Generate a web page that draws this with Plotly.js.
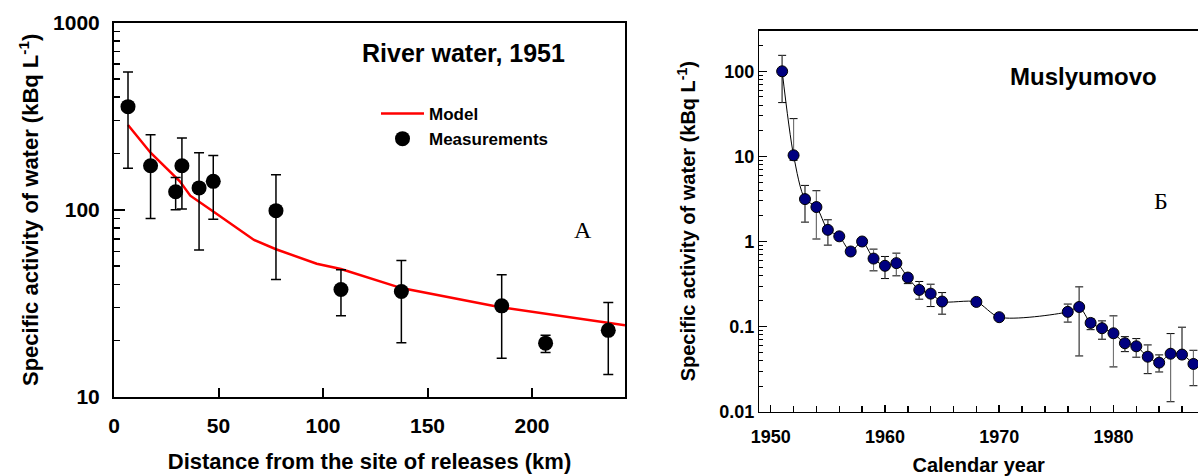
<!DOCTYPE html>
<html>
<head>
<meta charset="utf-8">
<script src="https://cdn.plot.ly/plotly-3.0.1.min.js"></script>
<style>html,body{margin:0;padding:0;background:#fff;}#chart{width:1198px;height:476px;}</style>
</head>
<body>
<div id="chart"></div>
<script>
// ---- Panel A: river water, 1951 ----
const distKm    = [6.7, 17.5, 29.5, 32.5, 40.7, 47.5, 77.5, 108.6, 137.5, 185.5, 206.5, 236.5];
const measured  = [356, 172, 125, 172, 131, 142, 99, 37.5, 36.6, 30.7, 19.4, 22.7];
const measUpper = [546, 252, 149, 242, 202, 195, 154, 47.8, 53.6, 45, 21.4, 32];
const measLower = [167, 90, 100, 101, 61, 89, 42.5, 27.2, 19.5, 16.1, 17.3, 13.2];
const modelKm   = [6.7, 17.5, 31.5, 36.5, 47.5, 67, 77.5, 97, 108.6, 137.5, 185.5, 244.5];
const modelVal  = [284, 202, 142, 119, 98, 69, 61.6, 51.5, 48.3, 38.2, 30.1, 24.2];
const ticksA_x  = [0, 50, 100, 150, 200];
const tickTextA_x = ['0', '50', '100', '150', '200'];
const ticksA_y  = [10, 100, 1000];
const tickTextA_y = ['10', '100', '1000'];

// ---- Panel B: Muslyumovo ----
const years    = [1951,1952,1953,1954,1955,1956,1957,1958,1959,1960,1961,1962,1963,1964,1965,1968,1970,1976,1977,1978,1979,1980,1981,1982,1983,1984,1985,1986,1987];
const activity = [100, 10.3, 3.15, 2.54, 1.37, 1.15, 0.763, 1.0, 0.63, 0.518, 0.557, 0.377, 0.27, 0.244, 0.197, 0.195, 0.129, 0.149, 0.17, 0.1105, 0.0957, 0.0835, 0.0638, 0.0587, 0.0443, 0.0377, 0.048, 0.0469, 0.0364];
const actUpper = [154, 27.8, 4.56, 3.95, 1.8, null, null, null, 0.814, 0.667, 0.73, 0.42, 0.339, 0.315, 0.251, null, null, 0.184, 0.293, 0.124, 0.1167, 0.1337, 0.0762, 0.0723, 0.0609, 0.0465, 0.0828, 0.0984, 0.0527];
const actLower = [42.9, 9, 1.69, 1.07, 0.907, null, null, null, 0.452, 0.367, 0.395, 0.32, 0.21, 0.172, 0.14, null, null, 0.113, 0.0452, 0.092, 0.0711, 0.0336, 0.0508, 0.0437, 0.028, 0.0293, 0.0131, 0.042, 0.0202];
const ticksB_x = [1950, 1960, 1970, 1980];
const tickTextB_x = ['1950', '1960', '1970', '1980'];
const ticksB_y = [0.01, 0.1, 1, 10, 100];
const tickTextB_y = ['0.01', '0.1', '1', '10', '100'];

const plus  = (v, u) => v.map((x, i) => u[i] == null ? NaN : u[i] - x);
const minus = (v, l) => v.map((x, i) => l[i] == null ? NaN : x - l[i]);

const SANS = 'Liberation Sans, Arial, sans-serif';
const SERIF = 'Liberation Serif, Times New Roman, serif';
const yTitle = 'Specific activity of water (kBq L<sup>-1</sup>)';

const traces = [
  {
    x: modelKm, y: modelVal, xaxis: 'x', yaxis: 'y', type: 'scatter', mode: 'lines',
    name: 'Model', line: {color: '#ff0000', width: 2.5}, hoverinfo: 'skip'
  },
  {
    x: distKm, y: measured, xaxis: 'x', yaxis: 'y', type: 'scatter', mode: 'markers',
    name: 'Measurements', marker: {color: '#000000', size: 15},
    error_y: {type: 'data', symmetric: false, array: plus(measured, measUpper),
              arrayminus: minus(measured, measLower), color: '#000000', thickness: 1.5, width: 5}
  },
  {
    x: years, y: activity, xaxis: 'x2', yaxis: 'y2', type: 'scatter', mode: 'markers',
    showlegend: false, marker: {color: 'rgba(0,0,0,0)', size: 11},
    error_y: {type: 'data', symmetric: false, array: plus(activity, actUpper),
              arrayminus: minus(activity, actLower), color: '#000000', thickness: 1, width: 4}
  },
  {
    x: years, y: activity, xaxis: 'x2', yaxis: 'y2', type: 'scatter', mode: 'markers',
    showlegend: false, marker: {color: 'rgba(0,0,0,0)', size: 11},
    error_y: {type: 'data', symmetric: false, array: plus(activity, actUpper),
              arrayminus: minus(activity, actLower), color: '#7a7a7a', thickness: 1, width: 0}
  },
  {
    x: years, y: activity, xaxis: 'x2', yaxis: 'y2', type: 'scatter', mode: 'lines+markers',
    showlegend: false, line: {color: '#000000', width: 1, shape: 'spline', smoothing: 0.8},
    marker: {color: '#000080', size: 11, line: {color: '#000000', width: 1}}
  }
];

const tickFontA = {family: SANS, size: 21, color: '#000', weight: 'bold'};
const tickFontB = {family: SANS, size: 18, color: '#000', weight: 'bold'};

const layout = {
  width: 1198, height: 476,
  margin: {l: 0, r: 0, t: 0, b: 0},
  paper_bgcolor: '#ffffff', plot_bgcolor: '#ffffff',
  font: {family: SANS, color: '#000'},
  showlegend: true,
  legend: {
    x: 376 / 1198, y: 1 - 96 / 476, xanchor: 'left', yanchor: 'top',
    bgcolor: 'rgba(0,0,0,0)', itemwidth: 43,
    font: {family: SANS, size: 17, color: '#000', weight: 'bold'}
  },
  xaxis: {
    domain: [114 / 1198, 625 / 1198], range: [0, 244.5], anchor: 'y',
    showline: true, linecolor: '#000', linewidth: 2, mirror: true,
    ticks: 'inside', ticklen: 9, tickwidth: 2, tickcolor: '#000',
    tickvals: ticksA_x, ticktext: tickTextA_x, ticklabelstandoff: 9,
    tickfont: tickFontA, showgrid: false, zeroline: false,
    title: {text: 'Distance from the site of releases (km)', standoff: 17,
            font: {family: SANS, size: 22, color: '#000', weight: 'bold'}}
  },
  yaxis: {
    domain: [(476 - 397) / 476, (476 - 22.7) / 476], type: 'log', range: [1, 3], anchor: 'x',
    showline: true, linecolor: '#000', linewidth: 2, mirror: true,
    ticks: 'inside', ticklen: 11, tickwidth: 2, tickcolor: '#000',
    tickvals: ticksA_y, ticktext: tickTextA_y, tickfont: tickFontA, ticklabelstandoff: 8,
    minor: {ticks: 'inside', ticklen: 6, tickwidth: 1.5, tickcolor: '#000', dtick: 'D1', showgrid: false},
    showgrid: false, zeroline: false,
    title: {text: yTitle, standoff: 8,
            font: {family: SANS, size: 22, color: '#000', weight: 'bold'}}
  },
  xaxis2: {
    domain: [759.3 / 1198, 1], range: [1949, 1987.4], anchor: 'y2',
    showline: true, linecolor: '#000', linewidth: 1.5, mirror: true,
    ticks: 'inside', ticklen: 7, tickwidth: 1.5, tickcolor: '#000',
    tickvals: ticksB_x, ticktext: tickTextB_x, ticklabelstandoff: 8,
    minor: {ticks: 'inside', ticklen: 6, tickwidth: 1.5, tickcolor: '#000', dtick: 2, tick0: 1950, showgrid: false},
    tickfont: tickFontB, showgrid: false, zeroline: false,
    title: {text: 'Calendar year', standoff: 13,
            font: {family: SANS, size: 20, color: '#000', weight: 'bold'}}
  },
  yaxis2: {
    domain: [(476 - 411.7) / 476, (476 - 30.7) / 476], type: 'log', range: [-2, Math.log10(300)], anchor: 'x2',
    showline: true, linecolor: '#000', linewidth: 1.5, mirror: false,
    ticks: 'inside', ticklen: 8, tickwidth: 1.5, tickcolor: '#000',
    tickvals: ticksB_y, ticktext: tickTextB_y, tickfont: tickFontB,
    minor: {ticks: 'inside', ticklen: 4, tickwidth: 1, tickcolor: '#000', dtick: 'D1', showgrid: false},
    showgrid: false, zeroline: false,
    title: {text: yTitle, standoff: 18,
            font: {family: SANS, size: 20, color: '#000', weight: 'bold'}}
  },
  annotations: [
    {text: 'River water, 1951', xref: 'paper', yref: 'paper', x: 463 / 1198, y: 1 - 53 / 476,
     xanchor: 'center', yanchor: 'middle', showarrow: false,
     font: {family: SANS, size: 25, color: '#000', weight: 'bold'}},
    {text: 'A', xref: 'paper', yref: 'paper', x: 583 / 1198, y: 1 - 230 / 476,
     xanchor: 'center', yanchor: 'middle', showarrow: false,
     font: {family: SERIF, size: 24, color: '#000'}},
    {text: 'Muslyumovo', xref: 'paper', yref: 'paper', x: 1083 / 1198, y: 1 - 76 / 476,
     xanchor: 'center', yanchor: 'middle', showarrow: false,
     font: {family: SANS, size: 24, color: '#000', weight: 'bold'}},
    {text: 'Б', xref: 'paper', yref: 'paper', x: 1160.7 / 1198, y: 1 - 201 / 476,
     xanchor: 'center', yanchor: 'middle', showarrow: false,
     font: {family: SERIF, size: 24, color: '#000'}}
  ]
};

Plotly.newPlot('chart', traces, layout, {displayModeBar: false, staticPlot: true});
</script>
</body>
</html>
